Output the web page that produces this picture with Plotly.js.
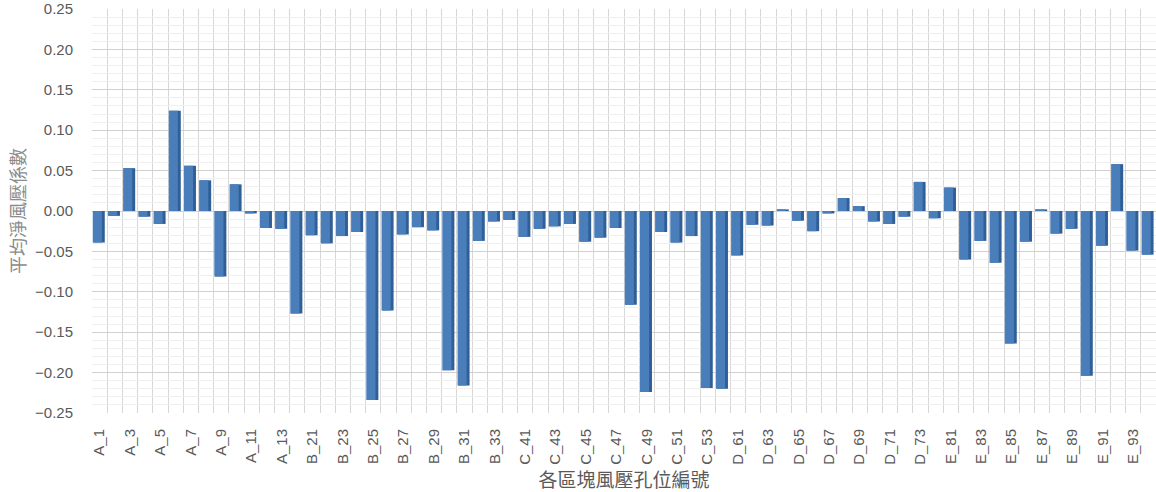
<!DOCTYPE html>
<html>
<head>
<meta charset="utf-8">
<script src="https://cdn.plot.ly/plotly-3.0.1.min.js"></script>
<style>html,body{margin:0;padding:0;background:#fff;}#chart{width:1156px;height:492px;}</style>
</head>
<body>
<div id="chart"></div>
<script>
const categories = [
  "A_1","A_2","A_3","A_4","A_5","A_6","A_7","A_8","A_9","A_10","A_11","A_12","A_13","A_14",
  "B_21","B_22","B_23","B_24","B_25","B_26","B_27","B_28","B_29","B_30","B_31","B_32","B_33","B_34",
  "C_41","C_42","C_43","C_44","C_45","C_46","C_47","C_48","C_49","C_50","C_51","C_52","C_53","C_54",
  "D_61","D_62","D_63","D_64","D_65","D_66","D_67","D_68","D_69","D_70","D_71","D_72","D_73","D_74",
  "E_81","E_82","E_83","E_84","E_85","E_86","E_87","E_88","E_89","E_90","E_91","E_92","E_93","E_94"
];
const values = [
  -0.039,-0.006,0.053,-0.007,-0.016,0.124,0.056,0.038,-0.081,0.033,-0.003,-0.021,-0.022,-0.127,
  -0.030,-0.040,-0.031,-0.026,-0.234,-0.123,-0.029,-0.020,-0.024,-0.197,-0.216,-0.037,-0.013,-0.011,
  -0.032,-0.022,-0.019,-0.016,-0.038,-0.033,-0.021,-0.116,-0.224,-0.026,-0.039,-0.031,-0.219,-0.220,
  -0.055,-0.017,-0.018,0.002,-0.012,-0.025,-0.003,0.016,0.006,-0.013,-0.016,-0.007,0.036,-0.009,
  0.029,-0.060,-0.037,-0.064,-0.164,-0.038,0.002,-0.028,-0.022,-0.204,-0.043,0.058,-0.049,-0.054
];
const yTicks = [-0.25,-0.20,-0.15,-0.10,-0.05,0.00,0.05,0.10,0.15,0.20,0.25];
const xTitle = "各區塊風壓孔位編號";
const yTitle = "平均淨風壓係數";

const idx = categories.map((c, i) => i);
const tickIdx = idx.filter(i => i % 2 === 0);
const tickText = tickIdx.map(i => categories[i]);

const side = {
  type: 'bar', x: idx, y: values, offset: -0.42, width: 0.76,
  marker: {color: '#2f5f96', line: {width: 0}}, hoverinfo: 'skip', showlegend: false
};
const front = {
  type: 'bar', x: idx, y: values, offset: -0.45, width: 0.6,
  marker: {color: '#4a7ebb', line: {width: 0}}, hoverinfo: 'skip', showlegend: false
};

const layout = {
  width: 1156, height: 492,
  margin: {l: 92, r: 0, t: 9, b: 79},
  paper_bgcolor: '#ffffff', plot_bgcolor: '#ffffff',
  barmode: 'overlay',
  font: {family: 'Liberation Sans, Arial, sans-serif', color: '#595959'},
  xaxis: {
    type: 'linear', range: [-0.5, 69.5],
    tickmode: 'array', tickvals: tickIdx, ticktext: tickText,
    tickangle: -90, tickfont: {size: 15, color: '#595959'},
    ticklabelstandoff: 12,
    showgrid: false, zeroline: false, showline: false, ticks: '',
    minor: {tick0: -0.5, dtick: 1, showgrid: true, gridcolor: '#d6d6d6', gridwidth: 1, ticks: ''},
    title: {text: xTitle, font: {family: 'Noto Sans CJK TC, sans-serif', size: 19, color: '#595959'}, standoff: 4}
  },
  yaxis: {
    range: [-0.25, 0.25], tickvals: yTicks, tickformat: '.2f',
    tickfont: {size: 15, color: '#595959'},
    ticklabelstandoff: 18,
    showgrid: true, gridcolor: '#d0d0d0', gridwidth: 1,
    zeroline: false, showline: false, ticks: '', ticklen: 0,
    minor: {dtick: 0.01, showgrid: true, gridcolor: '#efefef', gridwidth: 1},
    title: {text: yTitle, font: {family: 'Noto Sans CJK TC, sans-serif', size: 18, color: '#8c8c8c'}, standoff: 4}
  }
};

Plotly.newPlot('chart', [side, front], layout, {staticPlot: true, displayModeBar: false});
</script>
</body>
</html>
